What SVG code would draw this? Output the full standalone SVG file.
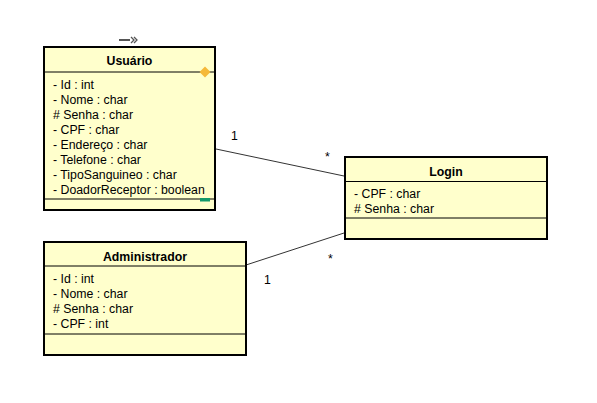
<svg xmlns="http://www.w3.org/2000/svg" width="597" height="403" viewBox="0 0 597 403">
<style>
.box{fill:#FFFFCC;stroke:#000;stroke-width:2}
.sep{stroke:#000;stroke-width:1}
.t{font-family:"Liberation Sans",Arial,sans-serif;font-size:12.3px;fill:#000}
.h{font-family:"Liberation Sans",Arial,sans-serif;font-size:12.3px;font-weight:bold;fill:#000;text-anchor:middle}
.c{stroke:#333;stroke-width:1;fill:none}
</style>
<rect width="597" height="403" fill="#fff"/>
<g id="connectors">
<line class="c" x1="216" y1="149" x2="344" y2="176"/>
<line class="c" x1="246" y1="265" x2="344" y2="233"/>
<text class="t" x="231" y="140">1</text>
<text class="t" x="325" y="161">*</text>
<text class="t" x="264" y="284">1</text>
<text class="t" x="328" y="263">*</text>
</g>
<g id="icon">
<line x1="119" y1="40" x2="130" y2="40" stroke="#555" stroke-width="2"/>
<path d="M131 37 L134 40 L131 43 M134 37 L137 40 L134 43" stroke="#555" stroke-width="1.3" fill="none"/>
</g>
<g id="usuario">
<rect class="box" x="44" y="47" width="171" height="163"/>
<line class="sep" x1="44" y1="72" x2="215" y2="72"/>
<line class="sep" x1="44" y1="199" x2="215" y2="199"/>
<text class="h" x="129.5" y="65">Usuário</text>
<text class="t" x="53" y="89">- Id : int</text>
<text class="t" x="53" y="104">- Nome : char</text>
<text class="t" x="53" y="119"># Senha : char</text>
<text class="t" x="53" y="134">- CPF : char</text>
<text class="t" x="53" y="149">- Endereço : char</text>
<text class="t" x="53" y="164">- Telefone : char</text>
<text class="t" x="53" y="179">- TipoSanguineo : char</text>
<text class="t" x="53" y="194">- DoadorReceptor : boolean</text>
<path d="M205 66.5 L210.5 72 L205 77.5 L199.5 72 Z" fill="#F5B93A"/>
<rect x="200" y="198" width="10" height="3.5" fill="#12996A"/>
</g>
<g id="login">
<rect class="box" x="345" y="157" width="202" height="82"/>
<line class="sep" x1="345" y1="181.5" x2="547" y2="181.5"/>
<line class="sep" x1="345" y1="218" x2="547" y2="218"/>
<text class="h" x="446" y="176">Login</text>
<text class="t" x="354" y="198">- CPF : char</text>
<text class="t" x="354" y="213"># Senha : char</text>
</g>
<g id="administrador">
<rect class="box" x="44" y="242" width="202" height="113"/>
<line class="sep" x1="44" y1="266" x2="246" y2="266"/>
<line class="sep" x1="44" y1="334" x2="246" y2="334"/>
<text class="h" x="145" y="261">Administrador</text>
<text class="t" x="53" y="283">- Id : int</text>
<text class="t" x="53" y="298">- Nome : char</text>
<text class="t" x="53" y="313"># Senha : char</text>
<text class="t" x="53" y="328">- CPF : int</text>
</g>
</svg>
